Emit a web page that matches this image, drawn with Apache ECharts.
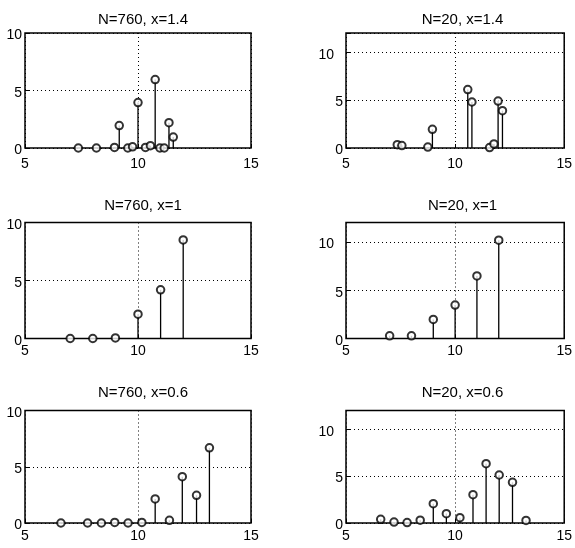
<!DOCTYPE html>
<html>
<head>
    <meta charset="utf-8">
    <title>ECharts</title>
    <script src="https://cdn.jsdelivr.net/npm/echarts@6/dist/echarts.min.js"></script>
</head>
<body style="margin:0;background:#fff;">
<div id="main" style="width: 575px;height:548px;"></div>

<script type="text/javascript">
    // titles of the six panels
    var titles = ['N=760, x=1.4', 'N=20, x=1.4', 'N=760, x=1', 'N=20, x=1', 'N=760, x=0.6', 'N=20, x=0.6'];

    // stem positions and heights
    var p1x = [7.36, 8.16, 8.96, 9.17, 9.55, 9.76, 10.0, 10.33, 10.55, 10.76, 10.97, 11.16, 11.37, 11.56];
    var p1y = [0, 0, 0.05, 1.95, 0, 0.1, 3.95, 0.05, 0.2, 5.95, 0, 0, 2.2, 0.95];

    var p2x = [7.35, 7.56, 8.75, 8.96, 10.58, 10.77, 11.58, 11.78, 11.97, 12.17];
    var p2y = [0.35, 0.25, 0.1, 1.95, 6.1, 4.8, 0.05, 0.42, 4.9, 3.9];

    var p3x = [7, 8, 9, 10, 11, 12];
    var p3y = [0, 0, 0.05, 2.1, 4.2, 8.5];

    var p4x = [7, 8, 9, 10, 11, 12];
    var p4y = [0.28, 0.28, 1.97, 3.46, 6.47, 10.17];

    var p5x = [6.59, 7.77, 8.38, 8.97, 9.56, 10.17, 10.76, 11.39, 11.96, 12.59, 13.16];
    var p5y = [0, 0, 0, 0.05, 0, 0.05, 2.14, 0.24, 4.12, 2.46, 6.68];

    var p6x = [6.59, 7.2, 7.8, 8.4, 9.0, 9.6, 10.22, 10.82, 11.42, 12.02, 12.63, 13.25];
    var p6y = [0.39, 0.1, 0.05, 0.3, 2.06, 1.0, 0.57, 3.02, 6.33, 5.12, 4.34, 0.28];

    // axis ranges
    var xMin = 5, xMax = 15, xStep = 5;
    var yMaxLeft = 10, yMaxRight = 12, yStep = 5;

    var xs = [p1x, p2x, p3x, p4x, p5x, p6x];
    var ys = [p1y, p2y, p3y, p4y, p5y, p6y];

    // panel boxes (pixels)
    var cols = [{left: 25, width: 226}, {left: 346, width: 223}];
    var rows = [
        {top: 33, height: 115, titleY: 7, xMargin: 9},
        {top: 222.5, height: 116, titleY: 193, xMargin: 6},
        {top: 410.5, height: 112.5, titleY: 380, xMargin: 6}
    ];

    var font = "'Liberation Sans', Arial, Helvetica, sans-serif";

    var grid = [], xAxis = [], yAxis = [], series = [], title = [];

    for (var i = 0; i < 6; i++) {
        var r = rows[Math.floor(i / 2)];
        var c = cols[i % 2];
        var right = (i % 2) === 1;

        grid.push({
            left: c.left, top: r.top, width: c.width, height: r.height,
            show: true, borderColor: '#000', borderWidth: 1.5, containLabel: false
        });

        title.push({
            text: titles[i],
            left: c.left + c.width / 2,
            top: r.titleY,
            textAlign: 'center',
            textStyle: {fontFamily: font, fontSize: 15, fontWeight: 'normal', color: '#000'}
        });

        xAxis.push({
            type: 'value', gridIndex: i,
            min: xMin, max: xMax, interval: xStep,
            axisLine: {show: false},
            axisTick: {show: true, inside: true, length: 4, lineStyle: {color: '#000'}},
            axisLabel: {color: '#000', fontFamily: font, fontSize: 14, margin: r.xMargin},
            splitLine: {show: true, lineStyle: {color: '#000', type: [1, 3], width: 1}}
        });

        yAxis.push({
            type: 'value', gridIndex: i,
            min: 0, max: right ? yMaxRight : yMaxLeft, interval: yStep,
            axisLine: {show: false},
            axisTick: {show: true, inside: true, length: 4, lineStyle: {color: '#000'}},
            axisLabel: {
                color: '#000', fontFamily: font, fontSize: 14, margin: 3,
                padding: [5, 0, 0, 0],
                formatter: (function (isRight) {
                    return function (v) {
                        if (v % 5 !== 0) return '';
                        if (isRight && v === 10) return '{t|10}';
                        return String(v);
                    };
                })(right),
                rich: {t: {fontFamily: font, fontSize: 14, color: '#000', padding: [0, 9, 0, 0]}}
            },
            splitLine: {show: true, lineStyle: {color: '#000', type: [1, 3], width: 1}}
        });

        var pts = xs[i].map(function (x, k) { return [x, ys[i][k]]; });

        // stems
        series.push({
            type: 'custom', xAxisIndex: i, yAxisIndex: i,
            data: pts,
            encode: {x: 0, y: 1},
            renderItem: function (params, api) {
                var top = api.coord([api.value(0), api.value(1)]);
                var base = api.coord([api.value(0), 0]);
                return {
                    type: 'line',
                    shape: {x1: base[0], y1: base[1], x2: top[0], y2: top[1]},
                    style: {stroke: '#000', lineWidth: 1.3}
                };
            },
            silent: true, z: 2
        });

        // circle heads
        series.push({
            type: 'scatter', xAxisIndex: i, yAxisIndex: i,
            data: pts,
            symbol: 'emptyCircle', symbolSize: 7.5,
            itemStyle: {color: '#000', borderColor: '#000', borderWidth: 1.3},
            silent: true, z: 3
        });
    }

    var myChart = echarts.init(document.getElementById('main'));
    myChart.setOption({
        animation: false,
        backgroundColor: '#fff',
        title: title,
        grid: grid,
        xAxis: xAxis,
        yAxis: yAxis,
        series: series
    });
</script>
</body>
</html>
